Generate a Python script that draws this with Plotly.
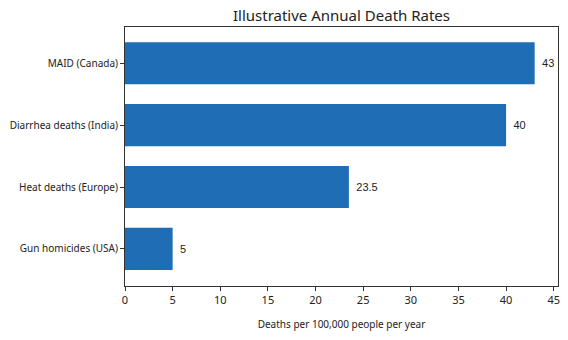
import plotly.graph_objects as go

categories = ["Gun homicides (USA)", "Heat deaths (Europe)", "Diarrhea deaths (India)", "MAID (Canada)"]
values = [5, 23.5, 40, 43]
labels = ["5", "23.5", "40", "43"]
x_ticks = [0, 5, 10, 15, 20, 25, 30, 35, 40, 45]

fig = go.Figure()
fig.add_trace(go.Bar(
    y=categories, x=values, orientation="h",
    marker=dict(color="#1f6db4", line=dict(width=0)),
    width=0.68,
    text=labels, texttemplate="\u2009\u2009%{text}", textposition="outside",
    textfont=dict(family="Liberation Sans, Arial", size=11, color="#222"),
    cliponaxis=False,
))

fig.update_layout(
    width=568, height=340,
    margin=dict(l=125, r=10, t=27, b=54, autoexpand=False),
    paper_bgcolor="white", plot_bgcolor="white",
    title=dict(text="Illustrative Annual Death Rates", x=0.5, xref="paper", xanchor="center",
               y=0.955, yanchor="middle",
               font=dict(family="Noto Sans", size=15, color="#222")),
    showlegend=False,
    font=dict(family="Noto Sans", size=10, color="#222"),
)
fig.update_xaxes(
    range=[0, 45.45], tickvals=x_ticks, ticktext=[str(t) for t in x_ticks],
    showgrid=False, zeroline=False, automargin=False,
    showline=True, linecolor="#333", linewidth=1, mirror=True,
    ticks="outside", ticklen=4, tickcolor="#333",
    title=dict(text="Deaths per 100,000 people per year", font=dict(size=10), standoff=14),
    tickfont=dict(size=11),
)
fig.update_yaxes(
    range=[-0.6, 3.586],
    showgrid=False, zeroline=False, automargin=False,
    showline=True, linecolor="#333", linewidth=1, mirror=True,
    ticks="outside", ticklen=4, tickcolor="#333",
    tickfont=dict(size=10),
)

fig.write_html("out.html")
